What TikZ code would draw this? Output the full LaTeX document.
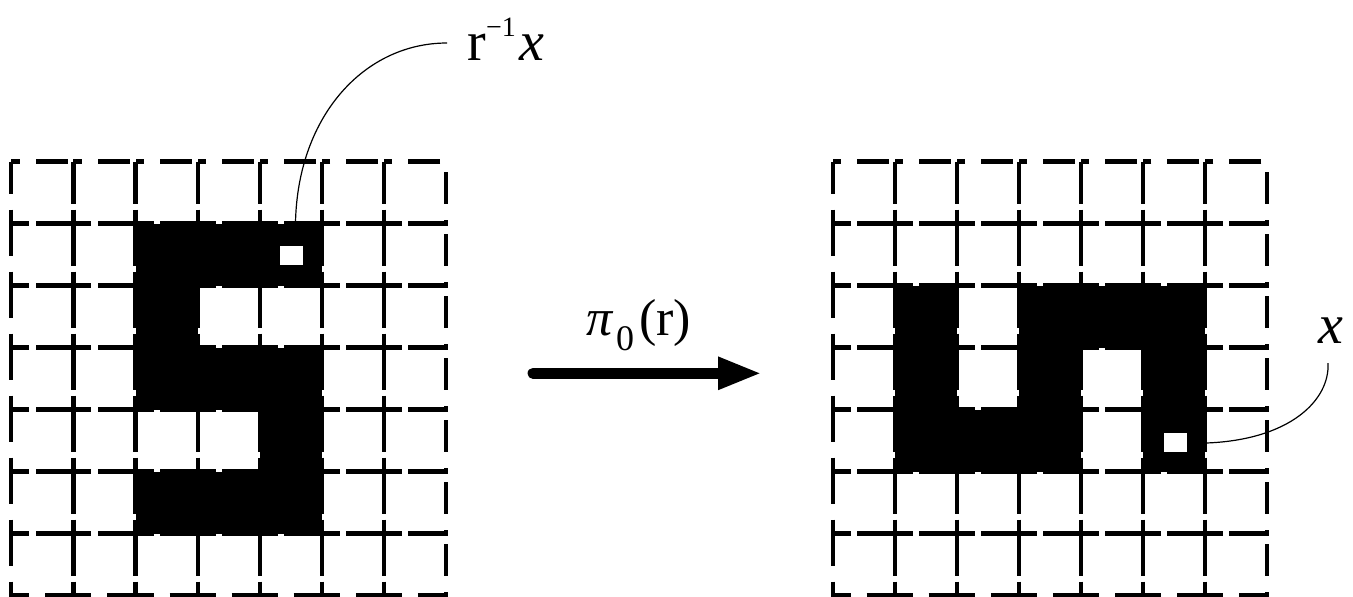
\documentclass[tikz,border=0pt]{standalone}
\usepackage{fontspec}
\setmainfont{Liberation Serif}
\usetikzlibrary{arrows.meta}
\begin{document}
\begin{tikzpicture}[x=0.5pt,y=-0.5pt,
  cellbox/.style={line width=2.1pt, dash pattern=on 16pt off 8pt},
  blackcell/.style={fill=black},
  whitesq/.style={fill=white, draw=none, inner sep=0pt, minimum width=11.5pt, minimum height=9.5pt},
  leader/.style={line width=0.6pt},
  bigarrow/.style={line width=5.5pt, line cap=round, -{Triangle[length=22pt,width=15pt]}},
  lbl/.style={inner sep=0pt, font=\fontsize{28pt}{30pt}\selectfont}]
\useasboundingbox (0,0) rectangle (1353,596);
\def\cw{62.1}
\def\ch{62}
\def\gy{161.5}
\def\lx{11.3}
\def\rx{832.6}
% black cells, left grid
\foreach \i/\j in {2/1,3/1,4/1,2/2,2/3,3/3,4/3,4/4,2/5,3/5,4/5}
  \fill[blackcell] ({\lx+\i*\cw},{\gy+\j*\ch}) rectangle ++(\cw,\ch);
% black cells, right grid
\foreach \i/\j in {1/2,3/2,4/2,5/2,1/3,3/3,5/3,1/4,2/4,3/4,5/4}
  \fill[blackcell] ({\rx+\i*\cw},{\gy+\j*\ch}) rectangle ++(\cw,\ch);
% dashed cells
\foreach \gx in {\lx,\rx}
  \foreach \i in {0,...,6}
    \foreach \j in {0,...,6}
      \draw[cellbox] ({\gx+\i*\cw},{\gy+\j*\ch}) -- ++(0,\ch) -- ++(\cw,0) -- ++(0,-\ch) -- cycle;
% white squares
\node[whitesq] (sqL) at (291,255.5) {};
\node[whitesq] (sqR) at (1175.3,442.2) {};
% labels
\node[lbl, anchor=base west] (lr) at (467,60) {r\raisebox{12pt}{\fontsize{14pt}{14pt}\selectfont −1}\kern2pt\textit{x}};
\node[lbl, anchor=base west] (lx) at (1318,343) {\textit{x}};
\node[lbl, anchor=base] (lpi) at (639,335) {\fontsize{26pt}{28pt}\selectfont\textit{π}\kern1pt\raisebox{-7.5pt}{\fontsize{18pt}{18pt}\selectfont 0}\kern2.5pt(r)};
% leaders
\coordinate (c1) at (447,43);
\coordinate (tL) at (295.5,222);
\draw[leader] (c1) .. controls (365,43) and (298,115) .. (tL);
\coordinate (c2) at (1328,363);
\coordinate (tR) at (1206,443);
\draw[leader] (c2) .. controls (1330,400) and (1290,440) .. (tR);
% arrow
\coordinate (aS) at (533,373.3);
\coordinate (aE) at (762,373.3);
\draw[bigarrow] (aS) -- (aE);
\end{tikzpicture}
\end{document}
